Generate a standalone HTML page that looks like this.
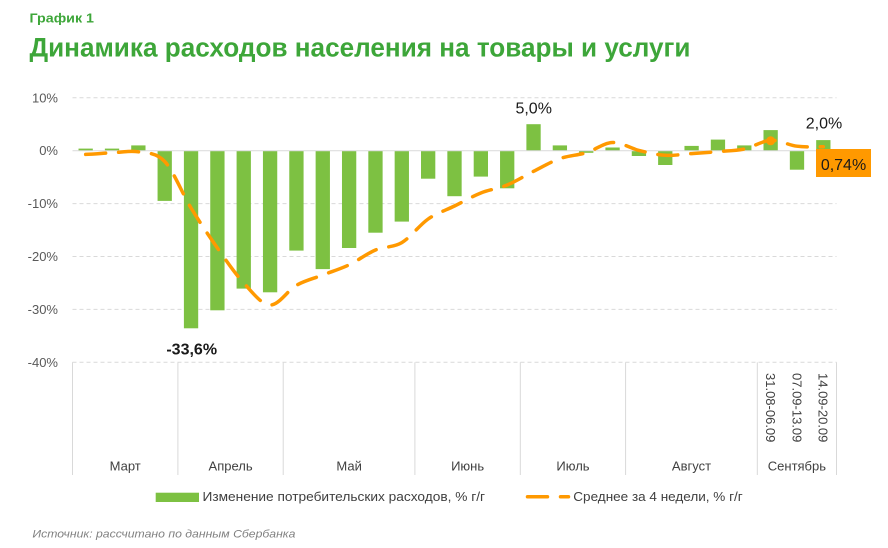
<!DOCTYPE html>
<html><head><meta charset="utf-8"><style>
html,body{margin:0;padding:0;background:#fff;}
svg{display:block;font-family:"Liberation Sans","DejaVu Sans",sans-serif;}
</style></head><body>
<svg width="888" height="548" viewBox="0 0 888 548" xmlns="http://www.w3.org/2000/svg">
<rect width="888" height="548" fill="#fff"/>
<text x="29.5" y="22.7" font-size="13" font-weight="bold" fill="#3DA639" textLength="64.5" lengthAdjust="spacingAndGlyphs">График 1</text>
<text x="29.5" y="56.7" font-size="27" font-weight="bold" fill="#3DA639" textLength="661" lengthAdjust="spacingAndGlyphs">Динамика расходов населения на товары и услуги</text>

<g stroke="#d9d9d9" stroke-width="1" fill="none">
<line x1="72.5" y1="97.8" x2="836.5" y2="97.8" stroke-dasharray="4 3"/>
<line x1="72.5" y1="203.6" x2="836.5" y2="203.6" stroke-dasharray="4 3"/>
<line x1="72.5" y1="256.5" x2="836.5" y2="256.5" stroke-dasharray="4 3"/>
<line x1="72.5" y1="309.4" x2="836.5" y2="309.4" stroke-dasharray="4 3"/>
<line x1="72.5" y1="362.3" x2="836.5" y2="362.3" stroke-dasharray="4 3"/>
<line x1="72.5" y1="362.3" x2="72.5" y2="475"/>
<line x1="177.9" y1="362.3" x2="177.9" y2="475"/>
<line x1="283.2" y1="362.3" x2="283.2" y2="475"/>
<line x1="414.9" y1="362.3" x2="414.9" y2="475"/>
<line x1="520.3" y1="362.3" x2="520.3" y2="475"/>
<line x1="625.6" y1="362.3" x2="625.6" y2="475"/>
<line x1="757.3" y1="362.3" x2="757.3" y2="475"/>
<line x1="836.5" y1="362.3" x2="836.5" y2="475"/>
</g>

<g font-size="13" fill="#595959" text-anchor="end">
<text x="58" y="102.3">10%</text>
<text x="58" y="155.2">0%</text>
<text x="58" y="208.1">-10%</text>
<text x="58" y="261">-20%</text>
<text x="58" y="313.9">-30%</text>
<text x="58" y="366.8">-40%</text>
</g>

<g fill="#7DC142">
<rect x="78.52" y="148.6" width="14.3" height="2.1"/>
<rect x="104.87" y="148.6" width="14.3" height="2.1"/>
<rect x="131.21" y="145.4" width="14.3" height="5.3"/>
<rect x="157.56" y="150.7" width="14.3" height="50.2"/>
<rect x="183.9" y="150.7" width="14.3" height="177.6"/>
<rect x="210.25" y="150.7" width="14.3" height="159.6"/>
<rect x="236.59" y="150.7" width="14.3" height="137.9"/>
<rect x="262.94" y="150.7" width="14.3" height="141.6"/>
<rect x="289.28" y="150.7" width="14.3" height="99.9"/>
<rect x="315.63" y="150.7" width="14.3" height="118.4"/>
<rect x="341.97" y="150.7" width="14.3" height="97.3"/>
<rect x="368.32" y="150.7" width="14.3" height="82"/>
<rect x="394.66" y="150.7" width="14.3" height="70.9"/>
<rect x="421.01" y="150.7" width="14.3" height="28"/>
<rect x="447.35" y="150.7" width="14.3" height="45.5"/>
<rect x="473.7" y="150.7" width="14.3" height="25.9"/>
<rect x="500.04" y="150.7" width="14.3" height="37.6"/>
<rect x="526.39" y="124.2" width="14.3" height="26.5"/>
<rect x="552.73" y="145.4" width="14.3" height="5.3"/>
<rect x="579.08" y="150.7" width="14.3" height="2.1"/>
<rect x="605.42" y="147.5" width="14.3" height="3.2"/>
<rect x="631.77" y="150.7" width="14.3" height="5.3"/>
<rect x="658.11" y="150.7" width="14.3" height="14.3"/>
<rect x="684.46" y="145.9" width="14.3" height="4.8"/>
<rect x="710.8" y="139.6" width="14.3" height="11.1"/>
<rect x="737.15" y="145.4" width="14.3" height="5.3"/>
<rect x="763.49" y="130.1" width="14.3" height="20.6"/>
<rect x="789.84" y="150.7" width="14.3" height="19"/>
<rect x="816.18" y="140.1" width="14.3" height="10.6"/>
</g>
<line x1="72.5" y1="150.7" x2="836.5" y2="150.7" stroke="#d9d9d9" stroke-width="1"/>

<path fill="none" stroke="#FF9900" stroke-width="3.5" stroke-linecap="round" stroke-dasharray="20 13" d="M85.67 154.4 C94.45 154.13,103.24 153.23,112.02 152.8 C120.8 152.37,129.58 150.35,138.36 151.8 C147.14 153.25,155.93 152.13,164.71 161.5 C173.49 170.87,182.27 193.58,191.05 208 C199.83 222.42,208.62 235.5,217.4 248 C226.18 260.5,234.96 273.5,243.74 283 C252.52 292.5,261.31 304.62,270.09 305 C278.87 305.38,287.65 290.3,296.43 285.3 C305.21 280.3,314 278.42,322.78 275 C331.56 271.58,340.34 268.97,349.12 264.8 C357.9 260.63,366.69 253.7,375.47 250 C384.25 246.3,393.03 247.77,401.81 242.6 C410.59 237.43,419.38 225.1,428.16 219 C436.94 212.9,445.72 210.33,454.5 206 C463.28 201.67,472.07 196.5,480.85 193 C489.63 189.5,498.41 188.62,507.19 185 C515.97 181.38,524.76 175.7,533.54 171.3 C542.32 166.9,551.1 161.7,559.88 158.6 C568.66 155.5,577.45 155.38,586.23 152.7 C595.01 150.02,603.79 142.88,612.57 142.5 C621.35 142.12,630.14 148.27,638.92 150.4 C647.7 152.53,656.48 154.77,665.26 155.3 C674.04 155.83,682.83 154.22,691.61 153.6 C700.39 152.98,709.17 152.37,717.95 151.6 C726.73 150.83,735.52 150.88,744.3 149 C753.08 147.12,761.86 140.77,770.64 140.3 C779.42 139.83,788.21 145.12,796.99 146.2 C805.77 147.28,814.55 146.7,823.33 146.8"/>
<circle cx="770.64" cy="140.8" r="4.5" fill="#FF9900"/>

<text x="191.7" y="354.3" font-size="16" font-weight="bold" fill="#1a1a1a" text-anchor="middle">-33,6%</text>
<text x="533.7" y="113.5" font-size="16" fill="#1a1a1a" text-anchor="middle">5,0%</text>
<text x="824" y="128.3" font-size="16" fill="#1a1a1a" text-anchor="middle">2,0%</text>
<rect x="816" y="149" width="55" height="28" fill="#FF9900"/>
<text x="843.5" y="169.8" font-size="16" fill="#1a1a1a" text-anchor="middle">0,74%</text>

<g font-size="13" fill="#404040" text-anchor="middle">
<text x="125.2" y="470.5">Март</text>
<text x="230.6" y="470.5">Апрель</text>
<text x="349.1" y="470.5">Май</text>
<text x="467.6" y="470.5">Июнь</text>
<text x="573" y="470.5">Июль</text>
<text x="691.5" y="470.5">Август</text>
<text x="796.9" y="470.5">Сентябрь</text>
</g>
<g font-size="13" fill="#404040">
<text transform="translate(766,373) rotate(90)" x="0" y="0">31.08-06.09</text>
<text transform="translate(792.4,373) rotate(90)" x="0" y="0">07.09-13.09</text>
<text transform="translate(818.7,373) rotate(90)" x="0" y="0">14.09-20.09</text>
</g>

<rect x="155.7" y="492.7" width="43.3" height="9.3" fill="#7DC142"/>
<text x="202.5" y="500.8" font-size="12.5" fill="#404040" textLength="282.5" lengthAdjust="spacingAndGlyphs">Изменение потребительских расходов, % г/г</text>
<line x1="527.5" y1="496.8" x2="568.5" y2="496.8" stroke="#FF9900" stroke-width="3.5" stroke-linecap="round" stroke-dasharray="20 13"/>
<text x="573.3" y="500.8" font-size="12.5" fill="#404040" textLength="169.4" lengthAdjust="spacingAndGlyphs">Среднее за 4 недели, % г/г</text>

<text x="32.4" y="537.5" font-size="11" font-style="italic" fill="#808080" textLength="263" lengthAdjust="spacingAndGlyphs">Источник: рассчитано по данным Сбербанка</text>
</svg>
</body></html>
